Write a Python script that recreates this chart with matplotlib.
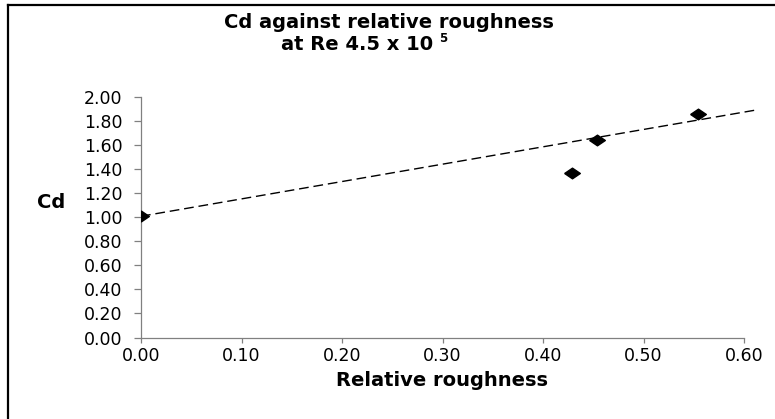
import matplotlib
matplotlib.use("Agg")
import matplotlib.pyplot as plt
from matplotlib.lines import Line2D

# values
roughness = [0.0, 0.429, 0.454, 0.554]
cd = [1.01, 1.37, 1.64, 1.86]

# dashed linear trendline (end points)
trend_x = [0.0, 0.611]
trend_y = [1.007, 1.888]

x_ticks = [0.0, 0.1, 0.2, 0.3, 0.4, 0.5, 0.6]
y_ticks = [0.0, 0.2, 0.4, 0.6, 0.8, 1.0, 1.2, 1.4, 1.6, 1.8, 2.0]

W, H = 775, 419
plt.rcParams["font.family"] = ["DejaVu Sans"]


def fx(px):
    return px / W


def fy(py):
    return 1 - py / H


def main():
    fig = plt.figure(figsize=(W / 100, H / 100), dpi=100)
    fig.patch.set_facecolor("white")

    left, right, top, bottom = 141, 744, 96.7, 337.5
    ax = fig.add_axes([fx(left), fy(bottom), (right - left) / W, (bottom - top) / H])

    # Excel style stretched diamond marker
    diamond = [(-1, 0), (0, 0.68), (1, 0), (0, -0.68), (-1, 0)]
    ax.plot(roughness, cd, linestyle="none", marker=diamond, markersize=11.3,
            color="black", zorder=3)
    ax.plot(trend_x, trend_y, color="black", lw=1.0,
            linestyle=(0, (7, 3.5)), clip_on=False, zorder=2)

    ax.set_xlim(0, 0.6)
    ax.set_ylim(0, 2.0)
    ax.set_xticks(x_ticks)
    ax.set_yticks(y_ticks)
    ax.set_xticklabels([f"{v:.2f}" for v in x_ticks])
    ax.set_yticklabels([f"{v:.2f}" for v in y_ticks])

    for side in ("top", "right"):
        ax.spines[side].set_visible(False)
    for side in ("left", "bottom"):
        ax.spines[side].set_color("#808080")
        ax.spines[side].set_linewidth(0.9)

    ax.tick_params(axis="y", length=5.4, width=0.9, color="#808080",
                   pad=8, labelsize=12.5)
    ax.tick_params(axis="x", length=3.6, width=0.9, color="#808080",
                   pad=3, labelsize=12.5)

    # titles and axis labels
    fig.text(fx(389), fy(27.5), "Cd against relative roughness", ha="center",
             va="baseline", fontsize=14, fontweight="bold")
    fig.text(fx(357), fy(50.5), "at Re 4.5 x 10", ha="center",
             va="baseline", fontsize=14, fontweight="bold")
    fig.text(fx(439), fy(42.5), "5", ha="left", va="baseline",
             fontsize=8.5, fontweight="bold")

    fig.text(fx(51), fy(203), "Cd", ha="center", va="center",
             fontsize=14, fontweight="bold")
    fig.text(fx(442), fy(380), "Relative roughness", ha="center", va="center",
             fontsize=14, fontweight="bold")

    # chart frame, only top and left edges survive the crop
    fig.add_artist(Line2D([fx(7.5), fx(7.5)], [fy(5), 0], color="black", lw=1.6))
    fig.add_artist(Line2D([fx(7.5), 1], [fy(5), fy(5)], color="black", lw=1.6))

    fig.savefig("out.png", dpi=100)
    plt.close(fig)


if __name__ == "__main__":
    main()
